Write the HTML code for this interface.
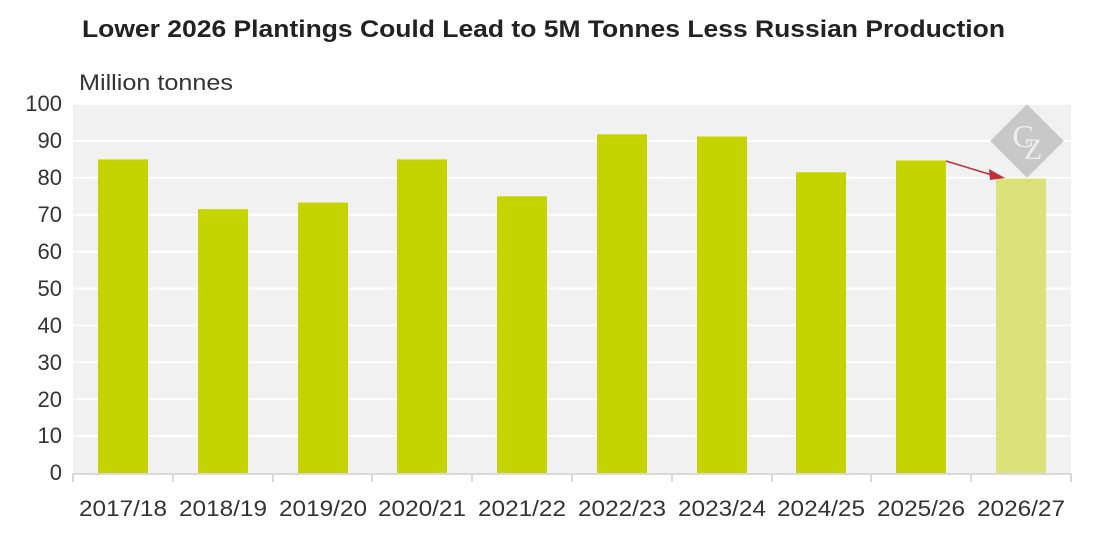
<!DOCTYPE html>
<html><head><meta charset="utf-8"><style>
body{margin:0;background:#fff;}
svg{display:block;font-family:"Liberation Sans",sans-serif;}
</style></head><body>
<svg width="1101" height="544" viewBox="0 0 1101 544">
<text x="82" y="37" textLength="923" lengthAdjust="spacingAndGlyphs" font-size="24" font-weight="bold" fill="#222">Lower 2026 Plantings Could Lead to 5M Tonnes Less Russian Production</text>
<text x="79" y="90" textLength="154" lengthAdjust="spacingAndGlyphs" font-size="22" fill="#333">Million tonnes</text>
<rect x="73" y="104" width="998" height="369" fill="#f1f1f1"/>
<g stroke="#fff" stroke-width="2">
<line x1="73" x2="1071" y1="104" y2="104"/><line x1="73" x2="1071" y1="140.9" y2="140.9"/><line x1="73" x2="1071" y1="177.8" y2="177.8"/><line x1="73" x2="1071" y1="214.7" y2="214.7"/><line x1="73" x2="1071" y1="251.6" y2="251.6"/><line x1="73" x2="1071" y1="288.5" y2="288.5"/><line x1="73" x2="1071" y1="325.4" y2="325.4"/><line x1="73" x2="1071" y1="362.3" y2="362.3"/><line x1="73" x2="1071" y1="399.2" y2="399.2"/><line x1="73" x2="1071" y1="436.1" y2="436.1"/>
</g>
<g font-size="22" fill="#333" text-anchor="end">
<text x="62" y="111">100</text><text x="62" y="148">90</text><text x="62" y="185">80</text><text x="62" y="222">70</text><text x="62" y="259">60</text><text x="62" y="296">50</text><text x="62" y="333">40</text><text x="62" y="370">30</text><text x="62" y="407">20</text><text x="62" y="443">10</text><text x="62" y="480">0</text>
</g>
<g fill="#c5d300">
<rect x="98" y="159.4" width="50" height="313.6"/>
<rect x="198" y="209.2" width="50" height="263.8"/>
<rect x="298" y="202.5" width="50" height="270.5"/>
<rect x="397" y="159.4" width="50" height="313.6"/>
<rect x="497" y="196.3" width="50" height="276.7"/>
<rect x="597" y="134.3" width="50" height="338.7"/>
<rect x="697" y="136.5" width="50" height="336.5"/>
<rect x="796" y="172.3" width="50" height="300.7"/>
<rect x="896" y="160.5" width="50" height="312.5"/>
<rect x="996" y="178.5" width="50" height="294.5" fill="#dbe27a"/>
</g>
<g transform="translate(1027,141)">
<rect x="-26" y="-26" width="52" height="52" transform="rotate(45)" fill="#c8c8c8"/>
<text x="-4" y="6" font-family="Liberation Serif,serif" font-size="32" fill="#eee" text-anchor="middle">C</text>
<text x="6" y="18" font-family="Liberation Serif,serif" font-size="30" fill="#eee" text-anchor="middle">Z</text>
</g>
<line x1="946" y1="161" x2="992" y2="175" stroke="#c0303a" stroke-width="1.5"/>
<polygon points="1005,178 989,169 990,180" fill="#c0303a"/>
<g stroke="#d9d9d9" stroke-width="2">
<line x1="73" x2="1071" y1="474" y2="474"/>
<line x1="73" x2="73" y1="473" y2="482"/><line x1="173" x2="173" y1="473" y2="482"/><line x1="273" x2="273" y1="473" y2="482"/><line x1="372" x2="372" y1="473" y2="482"/><line x1="472" x2="472" y1="473" y2="482"/><line x1="572" x2="572" y1="473" y2="482"/><line x1="672" x2="672" y1="473" y2="482"/><line x1="772" x2="772" y1="473" y2="482"/><line x1="871" x2="871" y1="473" y2="482"/><line x1="971" x2="971" y1="473" y2="482"/><line x1="1071" x2="1071" y1="473" y2="482"/>
</g>
<g font-size="22" fill="#333" text-anchor="middle">
<text x="123" y="516" textLength="88" lengthAdjust="spacingAndGlyphs">2017/18</text><text x="223" y="516" textLength="88" lengthAdjust="spacingAndGlyphs">2018/19</text><text x="323" y="516" textLength="88" lengthAdjust="spacingAndGlyphs">2019/20</text><text x="422" y="516" textLength="88" lengthAdjust="spacingAndGlyphs">2020/21</text><text x="522" y="516" textLength="88" lengthAdjust="spacingAndGlyphs">2021/22</text><text x="622" y="516" textLength="88" lengthAdjust="spacingAndGlyphs">2022/23</text><text x="722" y="516" textLength="88" lengthAdjust="spacingAndGlyphs">2023/24</text><text x="821" y="516" textLength="88" lengthAdjust="spacingAndGlyphs">2024/25</text><text x="921" y="516" textLength="88" lengthAdjust="spacingAndGlyphs">2025/26</text><text x="1021" y="516" textLength="88" lengthAdjust="spacingAndGlyphs">2026/27</text>
</g>
</svg>
</body></html>
